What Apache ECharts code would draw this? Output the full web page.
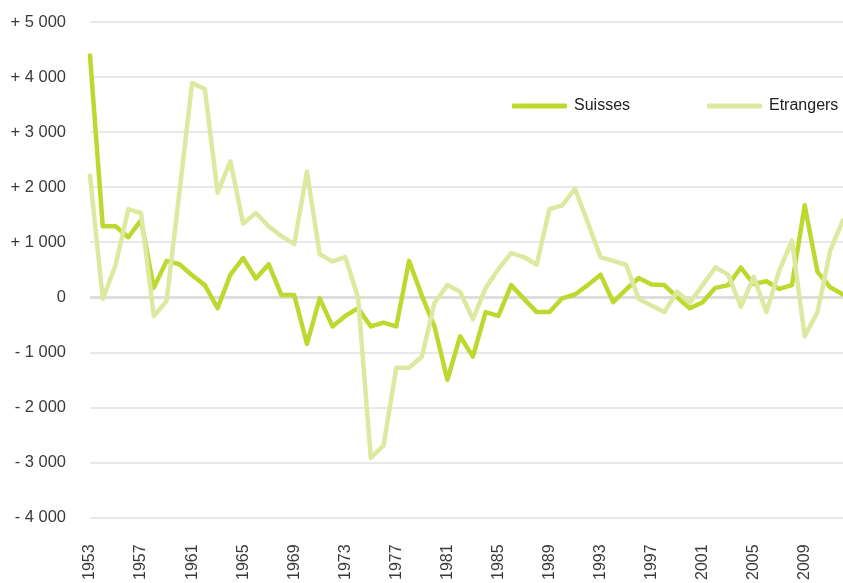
<!DOCTYPE html>
<html>
<head>
<meta charset="utf-8">
<script src="https://cdn.jsdelivr.net/npm/echarts@6/dist/echarts.min.js"></script>
<style>
  html, body { margin: 0; padding: 0; background: #fff; }
  #chart { width: 843px; height: 583px; }
</style>
</head>
<body>
<div id="chart"></div>
<script>
// années 1953 - 2012
const years = [];
for (let y = 1953; y <= 2012; y++) years.push(String(y));

// solde migratoire, Suisses
const suisses = [
  4390, 1290, 1290, 1090, 1400, 170, 660, 600, 400, 220,
  -200, 410, 710, 340, 600, 40, 40, -850, -20, -530,
  -340, -200, -530, -460, -530, 660, 30, -540, -1500, -710,
  -1080, -270, -340, 220, -30, -270, -270, -20, 50, 220,
  410, -90, 140, 350, 230, 220, 0, -200, -90, 170,
  220, 540, 240, 290, 150, 220, 1670, 460, 180, 50
];

// solde migratoire, Etrangers
const etrangers = [
  2210, -30, 580, 1600, 1530, -340, -70, 1900, 3890, 3780,
  1900, 2470, 1340, 1530, 1290, 1110, 970, 2280, 780, 650,
  730, 0, -2920, -2690, -1280, -1280, -1080, -100, 220, 100,
  -400, 170, 510, 800, 730, 590, 1600, 1670, 1970, 1360,
  730, 660, 590, -30, -150, -270, 100, -100, 220, 540,
  410, -170, 370, -270, 480, 1030, -710, -270, 850, 1400
];

const yMin = -4000, yMax = 5000, yStep = 1000;

function fmtY(v) {
  if (v === 0) return '0';
  const s = String(Math.abs(v)).replace(/\B(?=(\d{3})+(?!\d))/g, ' ');
  return (v > 0 ? '+ ' : '- ') + s;
}

const font = '"Liberation Sans", Arial, sans-serif';
const chart = echarts.init(document.getElementById('chart'));

// une légende par série, placées séparément
const legendBase = {
  top: 93, icon: 'roundRect',
  itemWidth: 55, itemHeight: 5,
  textStyle: { fontFamily: font, fontSize: 16, color: '#222', padding: [0, 0, 0, 2] }
};

chart.setOption({
  animation: false,
  backgroundColor: '#fff',
  grid: { left: 90, top: 22, bottom: 65, width: 755 },
  legend: [
    Object.assign({ left: 507, data: ['Suisses'] }, legendBase),
    Object.assign({ left: 702, data: ['Etrangers'] }, legendBase)
  ],
  xAxis: {
    type: 'category',
    data: years,
    boundaryGap: false,
    axisLine: { show: false },
    axisTick: { show: false },
    axisLabel: {
      interval: 3, rotate: 90, margin: 27,
      fontFamily: font, fontSize: 16, color: '#3a3a3a'
    },
    splitLine: { show: false }
  },
  yAxis: {
    type: 'value',
    min: yMin, max: yMax, interval: yStep,
    axisLine: { show: false },
    axisTick: { show: false },
    axisLabel: {
      margin: 24, formatter: fmtY,
      fontFamily: font, fontSize: 16.5, color: '#3a3a3a'
    },
    splitLine: { lineStyle: { color: '#e8e8e8', width: 2 } }
  },
  series: [
    {
      name: 'Suisses', type: 'line', data: suisses,
      symbol: 'none',
      lineStyle: { color: '#bfd82f', width: 4.5, cap: 'round', join: 'round' },
      itemStyle: { color: '#bfd82f' },
      markLine: {
        silent: true, symbol: 'none', label: { show: false },
        lineStyle: { color: '#dedede', width: 3, type: 'solid' },
        data: [{ yAxis: 0 }],
        z: 1
      }
    },
    {
      name: 'Etrangers', type: 'line', data: etrangers,
      symbol: 'none',
      lineStyle: { color: '#dde9a0', width: 4.5, cap: 'round', join: 'round' },
      itemStyle: { color: '#dde9a0' }
    }
  ]
});
</script>
</body>
</html>
